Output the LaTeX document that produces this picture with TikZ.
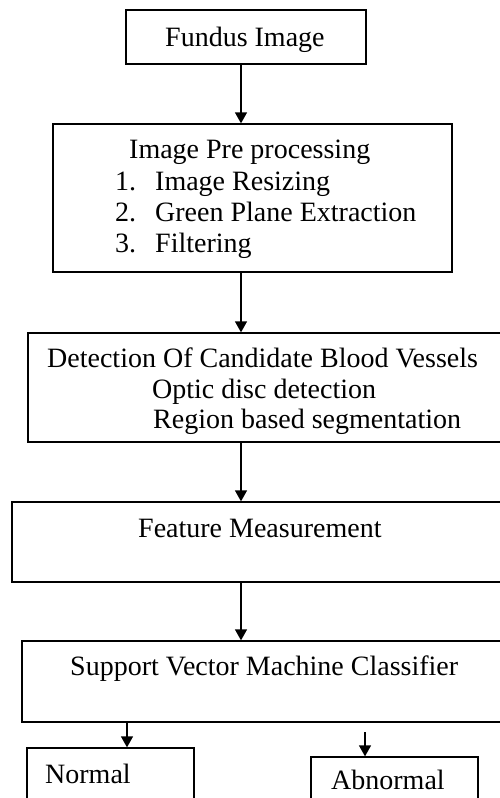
\documentclass[tikz,border=0pt]{standalone}
\usepackage{fontspec}
\setmainfont{Liberation Serif}
\usepackage{tikz}
\usetikzlibrary{arrows.meta,positioning,calc}
\tikzstyle{stage}=[draw, rectangle, line width=1.3pt, inner sep=0pt]
\tikzstyle{txt}=[anchor=base west, inner sep=0pt, font=\fontsize{28}{31}\selectfont]
\tikzstyle{flow}=[line width=1.3pt, -{Triangle[width=12pt,length=11pt]}]

\begin{document}
\begin{tikzpicture}[x=1pt, y=-1pt]
    \useasboundingbox (0,0) rectangle (500,798);
    \clip (0,0) rectangle (500,798);
    % boxes of the pipeline, top to bottom
    \node[stage, minimum width=240pt, minimum height=54pt] (fundus) at (246,37) {};
    \node[stage, minimum width=399pt, minimum height=148pt] (prep) at (252.5,198) {};
    \node[stage, minimum width=492pt, minimum height=109pt] (detect) at (274,387.5) {};
    \node[stage, minimum width=508pt, minimum height=80pt] (feature) at (266,542) {};
    \node[stage, minimum width=498pt, minimum height=81pt] (svm) at (271,681.5) {};
    \node[stage, minimum width=167pt, minimum height=72pt] (normal) at (110.5,784) {};
    \node[stage, minimum width=167pt, minimum height=73pt] (abnormal) at (394.5,793.5) {};

    % texts
    \node[txt] (tfundus) at (165,46) {Fundus Image};
    \node[txt] (tprep) at (129,158) {Image Pre processing};
    \node[txt] (n1) at (115,190) {1.};
    \node[txt] (n2) at (115,221) {2.};
    \node[txt] (n3) at (115,252) {3.};
    \node[txt] (i1) at (155,190) {Image Resizing};
    \node[txt] (i2) at (155,221) {Green Plane Extraction};
    \node[txt] (i3) at (155,252) {Filtering};
    \node[txt] (tdetect) at (47,367) {Detection Of Candidate Blood Vessels};
    \node[txt] (d1) at (152,398) {Optic disc detection};
    \node[txt] (d2) at (153,428) {Region based segmentation};
    \node[txt] (tfeature) at (138,537) {Feature Measurement};
    \node[txt] (tsvm) at (70,675) {Support Vector Machine Classifier};
    \node[txt] (tnormal) at (45,783) {Normal};
    \node[txt] (tabnormal) at (331,789) {Abnormal};

    % arrows
    \coordinate (spine) at (241,0);
    \coordinate (lft) at (127,0);
    \coordinate (rgt) at (365,0);
    \coordinate (abtop) at (365,732);
    \draw[flow] (fundus.south -| spine) -- (prep.north -| spine);
    \draw[flow] (prep.south -| spine) -- (detect.north -| spine);
    \draw[flow] (detect.south -| spine) -- (feature.north -| spine);
    \draw[flow] (feature.south -| spine) -- (svm.north -| spine);
    \draw[flow] (svm.south -| lft) -- (normal.north -| lft);
    \draw[flow] (abtop) -- (abnormal.north -| rgt);
\end{tikzpicture}
\end{document}
